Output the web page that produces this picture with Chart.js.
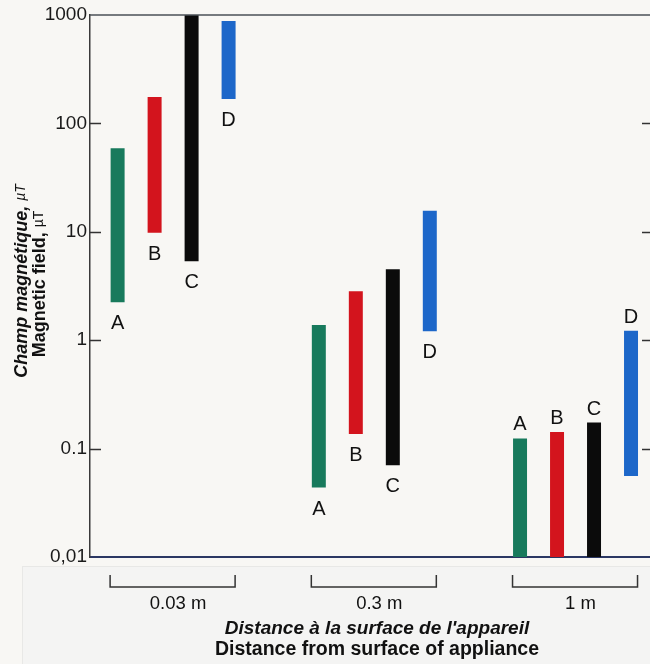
<!DOCTYPE html>
<html>
<head>
<meta charset="utf-8">
<script src="https://cdn.jsdelivr.net/npm/chart.js@4/dist/chart.umd.min.js"></script>
<style>
  html, body { margin: 0; padding: 0; overflow: hidden; background: #f8f7f4; }
  #wrap { width: 650px; height: 664px; overflow: hidden; position: relative; }
  canvas { display: block; }
</style>
</head>
<body>
<div id="wrap"><canvas id="chart" width="680" height="664"></canvas></div>
<script>
// Distances from the appliance surface (one group of bars each)
const distanceLabels = ['0.03 m', '0.3 m', '1 m'];
const seriesNames = ['A', 'B', 'C', 'D'];
// Magnetic field range [min, max] in µT for each appliance, per distance
const seriesA = [[2.24, 59], [0.0437, 1.38], [0.01, 0.124]];
const seriesB = [[9.8, 175], [0.136, 2.83], [0.01, 0.142]];
const seriesC = [[5.36, 1000], [0.0702, 4.52], [0.01, 0.174]];
const seriesD = [[168, 880], [1.21, 15.6], [0.0559, 1.22]];
const seriesColors = ['#187a5c', '#d3141d', '#0b0b0b', '#1d67c9'];
// Where the appliance letters sit relative to their bars, per distance
const letterSide = ['below', 'below', 'above'];
const yTickValues = [0.01, 0.1, 1, 10, 100, 1000];
const yTickLabels = ['0,01', '0.1', '1', '10', '100', '1000'];

const FONT = "'Liberation Sans', Arial, Helvetica, sans-serif";
const allSeries = [seriesA, seriesB, seriesC, seriesD];

const datasets = allSeries.map((s, k) => ({
  label: seriesNames[k],
  data: s.map((range, i) => ({ x: i, y: range })),
  backgroundColor: seriesColors[k],
  borderWidth: 0,
  borderSkipped: false,
  categoryPercentage: 0.7354,
  barPercentage: 0.378
}));

const decorations = {
  id: 'decorations',
  beforeDraw(chart) {
    const c = chart.ctx;
    c.save();
    c.fillStyle = '#f8f7f4';
    c.fillRect(0, 0, chart.width, chart.height);
    // faint panel below the plot
    c.fillStyle = '#f4f4f3';
    c.fillRect(22, 566, chart.width, chart.height);
    c.strokeStyle = '#e8e8e6';
    c.lineWidth = 1;
    c.strokeRect(22.5, 566.5, chart.width, chart.height);
    c.restore();
  },
  afterDatasetsDraw(chart) {
    const c = chart.ctx;
    const area = chart.chartArea;
    const xs = chart.scales.x;
    const ys = chart.scales.y;
    c.save();

    // frame: top and right
    c.strokeStyle = '#4b5257';
    c.lineWidth = 1.5;
    c.beginPath();
    c.moveTo(area.left, area.top);
    c.lineTo(area.right, area.top);
    c.lineTo(area.right, area.bottom);
    c.stroke();

    // inward tick marks on both vertical axes
    c.strokeStyle = '#333';
    c.lineWidth = 1.5;
    yTickValues.slice(1, -1).forEach(v => {
      const y = Math.round(ys.getPixelForValue(v)) + 0.5;
      c.beginPath();
      c.moveTo(area.left, y); c.lineTo(area.left + 11, y);
      c.moveTo(area.right - 11, y); c.lineTo(area.right, y);
      c.stroke();
    });

    // appliance letters beside each bar
    c.fillStyle = '#111';
    c.font = '20px ' + FONT;
    c.textAlign = 'center';
    c.textBaseline = 'alphabetic';
    chart.data.datasets.forEach((ds, k) => {
      chart.getDatasetMeta(k).data.forEach((bar, i) => {
        const top = Math.min(bar.y, bar.base);
        const bottom = Math.max(bar.y, bar.base);
        const y = letterSide[i] === 'above' ? top - 8 : bottom + 27;
        c.fillText(seriesNames[k], bar.x, y);
      });
    });

    // distance brackets and labels
    c.strokeStyle = '#333';
    c.lineWidth = 1.5;
    distanceLabels.forEach((lab, i) => {
      const cx = xs.getPixelForValue(i);
      c.beginPath();
      c.moveTo(cx - 63, 575);
      c.lineTo(cx - 63, 587);
      c.lineTo(cx + 62, 587);
      c.lineTo(cx + 62, 575);
      c.stroke();
      c.font = '18.5px ' + FONT;
      c.fillText(lab, cx + 5, 609);
    });

    // x-axis titles
    c.font = 'italic bold 19px ' + FONT;
    c.fillText("Distance à la surface de l'appareil", 377, 634);
    c.font = 'bold 19.5px ' + FONT;
    c.fillText('Distance from surface of appliance', 377, 655);

    // y-axis titles (rotated, with a smaller µT unit)
    const drawRotated = (main, mainFont, unit, unitFont, baseX, centerY) => {
      c.save();
      c.translate(baseX, centerY);
      c.rotate(-Math.PI / 2);
      c.font = mainFont; const w1 = c.measureText(main).width;
      c.font = unitFont; const w2 = c.measureText(unit).width;
      const start = -(w1 + w2) / 2;
      c.textAlign = 'left';
      c.font = mainFont; c.fillText(main, start, 0);
      c.font = unitFont; c.fillText(unit, start + w1, -2);
      c.restore();
    };
    drawRotated('Champ magnétique, ', 'italic bold 18px ' + FONT, 'µT', 'italic 14px ' + FONT, 27, 281);
    drawRotated('Magnetic field, ', 'bold 18px ' + FONT, 'µT', '14px ' + FONT, 45, 284);

    c.restore();
  }
};

new Chart(document.getElementById('chart'), {
  type: 'bar',
  data: { datasets },
  plugins: [decorations],
  options: {
    responsive: false,
    devicePixelRatio: 1,
    animation: false,
    layout: { padding: { top: 15, right: 27, bottom: 0, left: 0 } },
    plugins: { legend: { display: false }, tooltip: { enabled: false } },
    scales: {
      x: {
        type: 'linear',
        offset: false,
        min: -0.413,
        max: 2.385,
        grid: { display: false, offset: false },
        ticks: { display: false },
        border: { display: true, color: '#2b3763', width: 2 },
        afterBuildTicks(scale) { scale.ticks = distanceLabels.map((_, i) => ({ value: i })); },
        afterFit(scale) { scale.height = 107; }
      },
      y: {
        type: 'logarithmic',
        min: 0.01,
        max: 1000,
        grid: { display: false, drawTicks: false },
        border: { display: true, color: '#3a3a3a', width: 1.5 },
        afterBuildTicks(scale) { scale.ticks = yTickValues.map(v => ({ value: v })); },
        afterFit(scale) { scale.width = 90; },
        ticks: {
          padding: 3,
          color: '#1a1a1a',
          font: { family: FONT, size: 19 },
          callback(value) {
            const i = yTickValues.findIndex(v => Math.abs(v - value) < v * 1e-6);
            return i >= 0 ? yTickLabels[i] : '';
          }
        }
      }
    }
  }
});
</script>
</body>
</html>
